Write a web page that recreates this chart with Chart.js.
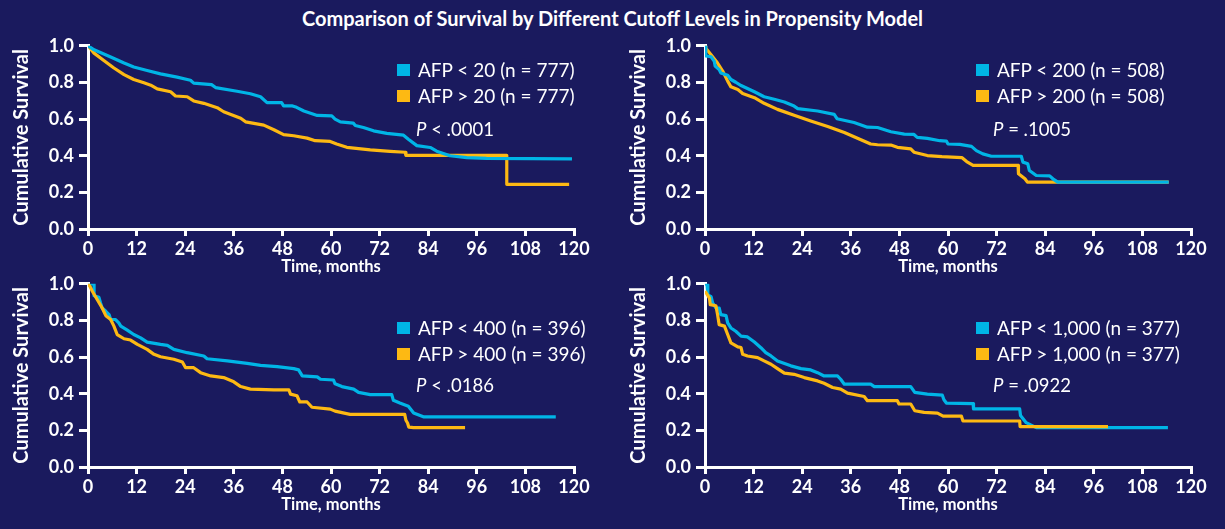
<!DOCTYPE html>
<html>
<head>
<meta charset="utf-8">
<script src="https://cdn.jsdelivr.net/npm/chart.js@4"></script>
<style>
  body { margin: 0; background: #1a1a5e; width: 1225px; height: 529px; overflow: hidden; position: relative; font-family: Lato, sans-serif; color: #fff; }
  canvas { position: absolute; }
  #title { position: absolute; left: 0; width: 1225px; top: 6px; text-align: center; font-weight: bold; font-size: 20px; line-height: 24px; }
  .row { position: absolute; display: flex; align-items: center; font-size: 19px; line-height: 24px; white-space: nowrap; }
  .sq { width: 13px; height: 12px; margin-right: 8px; }
  .pval { position: absolute; font-size: 18.5px; line-height: 24px; white-space: nowrap; }
</style>
</head>
<body>
<div id="title">Comparison of Survival by Different Cutoff Levels in Propensity Model</div>
<canvas id="c20" width="600" height="250" style="left:0px;top:30px"></canvas>
<canvas id="c200" width="600" height="250" style="left:617px;top:30px"></canvas>
<canvas id="c400" width="600" height="250" style="left:0px;top:268px"></canvas>
<canvas id="c1000" width="600" height="250" style="left:617px;top:268px"></canvas>
<script>
// tick values
const monthTicks = [0, 12, 24, 36, 48, 60, 72, 84, 96, 108, 120];
const survivalTicks = [0, 0.2, 0.4, 0.6, 0.8, 1.0];

// AFP cutoff 20
const labels20 = ['AFP < 20 (n = 777)', 'AFP > 20 (n = 777)'];
const tBelow20 = [0, 1.5, 5.6, 8.9, 11.3, 14.6, 17.9, 22, 25.3, 26.1, 30.5, 31.5, 36.8, 40.1, 42.6, 44.2, 47.8, 48.3, 50.5, 51.5, 53.3, 56.6, 60.2, 61, 62.3, 65.5, 66, 68, 70.5, 73.8, 77.9, 79.1, 81.2, 84.5, 86.1, 89.4, 93.5, 98.4, 119.5];
const sBelow20 = [1.0, .978, .939, .906, .884, .865, .847, .829, .812, .796, .788, .772, .752, .738, .722, .69, .69, .672, .672, .664, .644, .62, .617, .6, .585, .578, .565, .554, .536, .522, .512, .49, .455, .445, .425, .4, .39, .386, .383];
const tAbove20 = [0, 1.5, 3.9, 6.4, 8.9, 11.3, 13.8, 15.5, 17.1, 20.4, 21.6, 24.5, 26.1, 28.6, 31.9, 33.5, 37.7, 38.9, 43.4, 45.9, 48.3, 50.8, 54.1, 56.1, 59.8, 61.4, 63.9, 69.7, 74.6, 78.3, 78.5, 103.4, 103.4, 118.8];
const sAbove20 = [1.0, .96, .92, .879, .843, .816, .798, .785, .765, .749, .726, .722, .699, .686, .662, .64, .605, .585, .567, .542, .515, .509, .496, .482, .478, .464, .446, .432, .424, .419, .402, .402, .244, .244];

// AFP cutoff 200
const labels200 = ['AFP < 200 (n = 508)', 'AFP > 200 (n = 508)'];
const tBelow200 = [0, 0.2, 1.5, 2.3, 2.5, 3.5, 3.9, 5.6, 6.4, 7.6, 8.9, 12.2, 14.6, 17.1, 19.6, 22, 22.9, 27.8, 31.9, 32.6, 36.8, 40.1, 42.6, 45.9, 49.2, 51.6, 52.4, 54.9, 58, 59.6, 60, 62.9, 65.8, 67, 68.6, 70.7, 78.1, 78.5, 79.7, 80.1, 81.8, 85.1, 85.9, 87.1, 114.5];
const sBelow200 = [1.0, .945, .94, .915, .89, .87, .852, .839, .816, .801, .783, .749, .722, .708, .693, .671, .657, .644, .626, .602, .581, .556, .554, .531, .518, .516, .5, .495, .482, .48, .464, .462, .451, .428, .41, .397, .397, .365, .356, .319, .292, .29, .274, .256, .256];
const tAbove200 = [0, 0.2, 1.5, 3.1, 4.4, 5.6, 6.4, 8.1, 9.3, 12.2, 14.6, 17.9, 22, 26.1, 30.3, 34.4, 38.5, 40.9, 42.6, 45.9, 47.5, 50.8, 51.6, 54.9, 58.5, 63.4, 64.6, 66.2, 77.3, 77.4, 79, 79.6, 114.5];
const sAbove200 = [1.0, .987, .951, .906, .861, .807, .776, .762, .74, .717, .686, .653, .621, .59, .56, .527, .487, .464, .46, .458, .446, .437, .419, .401, .395, .39, .368, .347, .347, .302, .274, .256, .256];

// AFP cutoff 400
const labels400 = ['AFP < 400 (n = 396)', 'AFP > 400 (n = 396)'];
const tBelow400 = [0, 1.5, 1.5, 2.7, 3.1, 3.5, 4.4, 5.2, 5.6, 6.8, 7.6, 8.1, 9.7, 11.3, 13, 14.6, 17.9, 19.6, 21.2, 24.5, 28.6, 29.4, 34.4, 39.3, 42.6, 46.7, 50.8, 52, 52.9, 56.6, 57.4, 60.6, 61, 62.7, 65.6, 66.8, 69.7, 75, 75.4, 77, 79.1, 80.4, 82.8, 115.5];
const sBelow400 = [1.0, 1.0, .935, .926, .895, .868, .85, .832, .805, .805, .787, .769, .747, .723, .705, .682, .669, .664, .642, .624, .606, .591, .579, .566, .555, .548, .537, .53, .497, .492, .479, .475, .454, .439, .425, .407, .395, .395, .364, .349, .332, .295, .274, .274];
const tAbove400 = [0, 0.5, 1.1, 2.3, 3.5, 4.4, 5.6, 6.4, 7.2, 8.9, 10.5, 12.2, 14.6, 16.3, 17.9, 21.2, 23.3, 24.1, 26.1, 27.8, 30.3, 33.5, 36, 37.7, 40.1, 45.9, 49.6, 50, 51.6, 52.3, 54.1, 55.3, 59.8, 61, 64.7, 78.2, 78.5, 78.9, 79.2, 80.4, 93.1];
const sAbove400 = [1.0, .985, .958, .913, .868, .826, .805, .769, .723, .7, .693, .669, .642, .615, .602, .588, .573, .542, .542, .515, .497, .488, .465, .439, .425, .421, .421, .398, .389, .355, .355, .326, .316, .305, .287, .287, .255, .24, .218, .215, .215];

// AFP cutoff 1,000
const labels1000 = ['AFP < 1,000 (n = 377)', 'AFP > 1,000 (n = 377)'];
const tBelow1000 = [0, 0.5, 0.7, 1.5, 1.9, 2.7, 3.5, 3.9, 5.2, 5.6, 6.4, 7.6, 8.9, 10.5, 12.2, 13.8, 15, 16.3, 17.9, 21.2, 23.7, 26.1, 27.8, 29.4, 32.7, 33.5, 34.4, 40.9, 41.8, 50.8, 51.8, 54.9, 58.6, 59, 59.6, 66.2, 66.3, 77.7, 77.9, 79.3, 81.8, 114.3];
const sBelow1000 = [1.0, .995, .94, .93, .895, .868, .868, .832, .826, .787, .759, .741, .714, .71, .682, .651, .624, .606, .579, .552, .537, .53, .515, .497, .497, .479, .452, .452, .439, .439, .407, .398, .392, .367, .349, .346, .317, .317, .281, .242, .215, .215];
const tAbove1000 = [0, 1.1, 1.3, 2.7, 3.1, 3.5, 4.8, 5.6, 6.4, 8.1, 8.9, 9.3, 10.5, 13, 14.6, 16.3, 17.9, 19.6, 22, 24.5, 27.8, 29.4, 31.5, 33.5, 35.2, 39.3, 40.1, 47.5, 47.9, 50.8, 51.8, 54.1, 57.4, 58.8, 63.3, 63.7, 77.7, 77.8, 99.5];
const sAbove1000 = [.96, .922, .886, .88, .832, .777, .769, .723, .678, .656, .652, .615, .606, .597, .579, .561, .537, .512, .506, .488, .47, .457, .434, .425, .403, .385, .362, .362, .344, .344, .307, .298, .294, .278, .278, .251, .251, .22, .22];

const pValues = ['< .0001', '= .1005', '< .0186', '= .0922'];

const CYAN = '#00b5e6';
const GOLD = '#fdb913';
const WHITE = '#ffffff';

const toPoints = (ts, ss) => ts.map((t, i) => ({ x: t, y: ss[i] }));

const tickFont = { family: 'Lato', weight: 'bold', size: 18 };

const makeChart = (id, below, above, goldOnTop) => {
    const ctx = document.getElementById(id).getContext('2d');
    const cyanSet = { data: toPoints(below[0], below[1]), borderColor: CYAN, order: goldOnTop ? 1 : 0 };
    const goldSet = { data: toPoints(above[0], above[1]), borderColor: GOLD, order: goldOnTop ? 0 : 1 };
    return new Chart(ctx, {
        type: 'line',
        data: { datasets: [cyanSet, goldSet] },
        options: {
            responsive: false,
            animation: false,
            devicePixelRatio: 1,
            layout: { padding: { left: 0, right: 26, top: 14, bottom: 0 } },
            plugins: { legend: { display: false }, tooltip: { enabled: false } },
            elements: {
                point: { radius: 0 },
                line: { borderWidth: 3.2, tension: 0, fill: false, borderJoinStyle: 'round' }
            },
            scales: {
                x: {
                    type: 'linear', min: 0, max: 120,
                    afterBuildTicks: s => { s.ticks = monthTicks.map(v => ({ value: v })); },
                    ticks: { color: WHITE, font: tickFont, padding: 2, maxRotation: 0, autoSkip: false },
                    grid: { drawOnChartArea: false, drawTicks: true, tickLength: 7, color: WHITE, lineWidth: 3 },
                    border: { display: true, color: WHITE, width: 3 },
                    title: { display: true, text: 'Time, months', color: WHITE, font: { family: 'Lato', weight: 'bold', size: 16.5 }, padding: { top: 0, bottom: 3 } },
                    afterFit: s => { s.height = 51; }
                },
                y: {
                    type: 'linear', min: 0, max: 1,
                    afterBuildTicks: s => { s.ticks = survivalTicks.map(v => ({ value: v })); },
                    ticks: { color: WHITE, font: tickFont, padding: 5, callback: v => v.toFixed(1) },
                    grid: { drawOnChartArea: false, drawTicks: true, tickLength: 9, color: WHITE, lineWidth: 3 },
                    border: { display: true, color: WHITE, width: 3 },
                    title: { display: true, text: 'Cumulative Survival', color: WHITE, font: { family: 'Lato', weight: 'bold', size: 20 }, padding: { top: 10, bottom: 0 } },
                    afterFit: s => { s.width = 88; }
                }
            }
        }
    });
};

const addLegend = (labels, pText, sqLeft, rowTop, pLeft, pTop) => {
    [CYAN, GOLD].forEach((c, i) => {
        const row = document.createElement('div');
        row.className = 'row';
        row.style.left = sqLeft + 'px';
        row.style.top = (rowTop + i * 26) + 'px';
        row.innerHTML = '<span class="sq" style="background:' + c + '"></span><span>' + labels[i].replace(/</g, '&lt;').replace(/>/g, '&gt;') + '</span>';
        document.body.appendChild(row);
    });
    const p = document.createElement('div');
    p.className = 'pval';
    p.style.left = pLeft + 'px';
    p.style.top = pTop + 'px';
    p.innerHTML = '<i>P</i> ' + pText.replace(/</g, '&lt;');
    document.body.appendChild(p);
};

document.addEventListener('DOMContentLoaded', () => {
    makeChart('c20', [tBelow20, sBelow20], [tAbove20, sAbove20], false);
    makeChart('c200', [tBelow200, sBelow200], [tAbove200, sAbove200], false);
    makeChart('c400', [tBelow400, sBelow400], [tAbove400, sAbove400], true);
    makeChart('c1000', [tBelow1000, sBelow1000], [tAbove1000, sAbove1000], true);

    addLegend(labels20, pValues[0], 397, 58, 416, 117);
    addLegend(labels200, pValues[1], 976, 58, 993, 117);
    addLegend(labels400, pValues[2], 397, 316, 416, 373);
    addLegend(labels1000, pValues[3], 976, 316, 993, 373);
});
</script>
</body>
</html>
